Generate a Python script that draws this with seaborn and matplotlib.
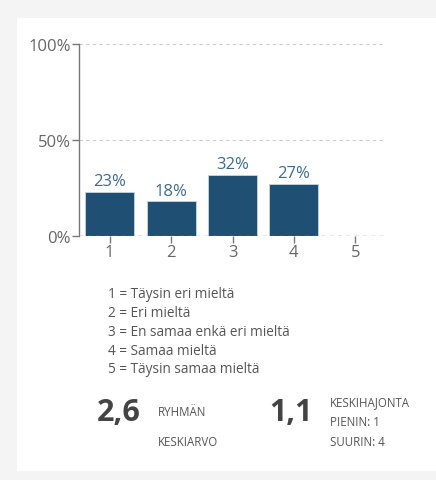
import matplotlib
matplotlib.use("Agg")
import matplotlib.pyplot as plt
import pandas as pd
import seaborn as sns
from matplotlib.patches import Rectangle

# 資料
categories = ["1", "2", "3", "4", "5"]
values = [23, 18, 32, 27, 0]
bar_labels = ["23%", "18%", "32%", "27%", ""]
y_ticks = [0, 50, 100]
y_tick_labels = ["0%", "50%", "100%"]
legend_lines = [
    "1 = Täysin eri mieltä",
    "2 = Eri mieltä",
    "3 = En samaa enkä eri mieltä",
    "4 = Samaa mieltä",
    "5 = Täysin samaa mieltä",
]
mean_value = "2,6"
std_value = "1,1"
min_label = "PIENIN: 1"
max_label = "SUURIN: 4"

df = pd.DataFrame({"vaihtoehto": categories, "osuus": values})

sns.set_theme(style="white")
plt.rcParams["font.family"] = ["Open Sans", "DejaVu Sans"]

fig = plt.figure(figsize=(4.36, 4.81), dpi=100)
fig.patch.set_facecolor("#f4f4f4")
# valkoinen kortti
fig.patches.append(Rectangle((17 / 436, 1 - 472 / 481), 1, (472 - 19) / 481,
                             transform=fig.transFigure, facecolor="white",
                             edgecolor="none", zorder=-5))

ax = fig.add_axes([79 / 436, 1 - 237 / 481, 307 / 436, 192 / 481])
ax.set_zorder(2)
ax.set_facecolor("none")

sns.barplot(data=df, x="vaihtoehto", y="osuus", order=categories,
            color="#1f5073", saturation=1, width=0.8,
            edgecolor="#c8d6e0", linewidth=0.6, ax=ax)

for container in ax.containers:
    ax.bar_label(container, labels=bar_labels, padding=2,
                 fontsize=12, color="#3d6b8f")

ax.set_xlim(-0.5, 4.5)
ax.set_ylim(0, 100)
ax.set_yticks(y_ticks)
ax.set_yticklabels(y_tick_labels)
ax.set_xlabel("")
ax.set_ylabel("")

for y in [50, 100]:
    ax.axhline(y, color="#cccccc", linestyle=(0, (3, 3)), linewidth=0.8, zorder=0)
ax.axhline(0, color="#888888", linestyle=(0, (3, 3)), linewidth=1.0, zorder=3)

sns.despine(ax=ax, top=True, right=True, bottom=True)
ax.spines["left"].set_color("#777777")
ax.spines["left"].set_linewidth(1.0)
ax.tick_params(axis="both", colors="#777777", labelcolor="#666666",
               labelsize=12, length=5, width=1, left=True, bottom=True)
ax.tick_params(axis="x", pad=1)
ax.tick_params(axis="y", pad=1)

# selitteet
for i, line in enumerate(legend_lines):
    fig.text(108 / 436, 1 - (295 + i * 18.7) / 481, line, fontsize=9.8,
             color="#555555", va="center", ha="left")

# tunnusluvut
fig.text(97 / 436, 1 - 413 / 481, mean_value, fontsize=22, fontweight="bold",
         color="#444444", va="center", ha="left")
fig.text(158 / 436, 1 - 412 / 481, "RYHMÄN", fontsize=8.3,
         color="#555555", va="center", ha="left")
fig.text(158 / 436, 1 - 443 / 481, "KESKIARVO", fontsize=8.3,
         color="#555555", va="center", ha="left")

fig.text(269 / 436, 1 - 413 / 481, std_value, fontsize=22, fontweight="bold",
         color="#444444", va="center", ha="left")
fig.text(330 / 436, 1 - 403 / 481, "KESKIHAJONTA", fontsize=8.3,
         color="#555555", va="center", ha="left")
fig.text(330 / 436, 1 - 422 / 481, min_label, fontsize=8.3,
         color="#555555", va="center", ha="left")
fig.text(330 / 436, 1 - 443 / 481, max_label, fontsize=8.3,
         color="#555555", va="center", ha="left")

fig.savefig("out.png", dpi=100, facecolor=fig.get_facecolor())
